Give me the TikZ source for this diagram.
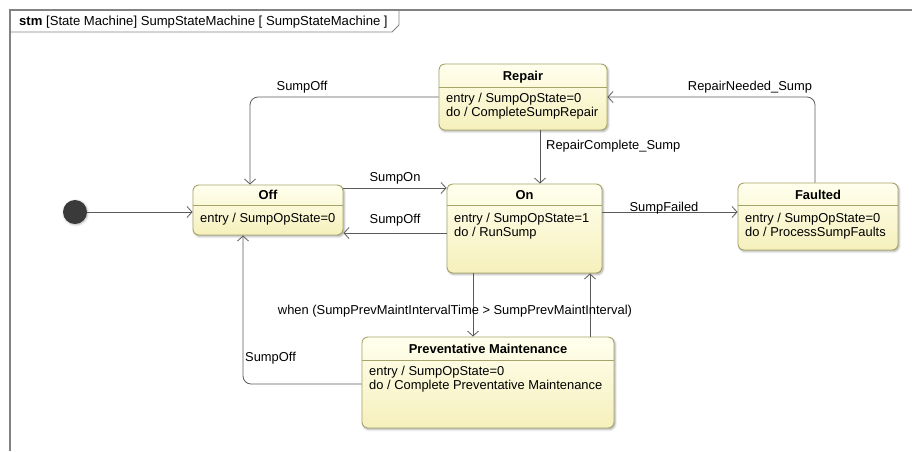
\documentclass[tikz,border=0pt]{standalone}
\usepackage{fontspec}
\setmainfont{Liberation Sans}
\usetikzlibrary{arrows.meta,shadows.blur}
\definecolor{stateborder}{RGB}{165,165,105}
\definecolor{statetop}{RGB}{255,255,238}
\definecolor{statebot}{RGB}{246,240,188}
\definecolor{wire}{RGB}{90,90,90}
\definecolor{framegray}{RGB}{130,130,130}
\definecolor{initfill}{RGB}{58,58,58}
\tikzset{
  statebox/.style={draw=stateborder, line width=0.9pt, rounded corners=6pt,
    top color=statetop, bottom color=statebot, inner sep=0pt,
    blur shadow={shadow xshift=1.2pt, shadow yshift=-1.5pt,
      shadow blur radius=2pt, shadow opacity=35}},
  sepline/.style={draw=stateborder, line width=0.8pt},
  stitle/.style={font=\fontsize{12.9}{15}\selectfont\bfseries, anchor=base, inner sep=0pt},
  sline/.style={anchor=base west, inner sep=0pt},
  trans/.style={draw=wire, line width=0.8pt, rounded corners=8pt,
    -{Straight Barb[length=5pt,width=11pt,line width=0.8pt]}},
  tlabel/.style={inner sep=0pt},
}
\begin{document}
\begin{tikzpicture}[x=1pt, y=-1pt, font=\fontsize{12.9}{15}\selectfont]
\useasboundingbox (0,0) rectangle (912,451);

% diagram frame and name tab
\draw[framegray, line width=1.3pt] (10,451) -- (10,10) -- (912,10);
\draw[framegray, line width=0.9pt] (10,32) -- (392,32) -- (399,25) -- (399,10);
\node[anchor=base west, inner sep=0pt, font=\fontsize{13.1}{15}\selectfont] (tab) at (19,25)
  {\textbf{stm} [State Machine] SumpStateMachine [ SumpStateMachine ]};

% initial pseudostate
\node[circle, fill=initfill, minimum size=24pt, inner sep=0pt,
  blur shadow={shadow xshift=0.8pt, shadow yshift=-0.8pt, shadow opacity=30}]
  (init) at (75,212) {};

% Off
\node[statebox, minimum width=150pt, minimum height=50pt] (off) at (268,210) {};
\draw[sepline] (193,205) -- (343,205);
\node[stitle] (off-t) at (268,199.5) {Off};
\node[sline] (off-e) at (200,222.5) {entry / SumpOpState=0};

% On
\node[statebox, minimum width=155pt, minimum height=89pt] (on) at (524.5,228.5) {};
\draw[sepline] (447,205) -- (602,205);
\node[stitle] (on-t) at (524.5,199.5) {On};
\node[sline] (on-e) at (454,222.5) {entry / SumpOpState=1};
\node[sline] (on-d) at (454,236.5) {do / RunSump};

% Repair
\node[statebox, minimum width=168pt, minimum height=66pt] (repair) at (523,97) {};
\draw[sepline] (439,87) -- (607,87);
\node[stitle] (repair-t) at (523,80.5) {Repair};
\node[sline] (repair-e) at (446,102.5) {entry / SumpOpState=0};
\node[sline] (repair-d) at (446,116.5) {do / CompleteSumpRepair};

% Faulted
\node[statebox, minimum width=160pt, minimum height=67pt] (faulted) at (818,216.5) {};
\draw[sepline] (738,205) -- (898,205);
\node[stitle] (faulted-t) at (818,199.5) {Faulted};
\node[sline] (faulted-e) at (745,222.5) {entry / SumpOpState=0};
\node[sline] (faulted-d) at (745,236.5) {do / ProcessSumpFaults};

% Preventative Maintenance
\node[statebox, minimum width=252pt, minimum height=91pt] (pm) at (488,382.5) {};
\draw[sepline] (362,360) -- (614,360);
\node[stitle] (pm-t) at (488,353.5) {Preventative Maintenance};
\node[sline] (pm-e) at (369,375.5) {entry / SumpOpState=0};
\node[sline] (pm-d) at (369,389.5) {do / Complete Preventative Maintenance};

% transitions
\draw[trans] (init) -- (init -| off.west);
\draw[trans] (repair.west) -| ([xshift=-18pt]off.north);
\draw[trans] ([yshift=22pt]off.east) -- ([yshift=22pt]off.east -| on.west);
\draw[trans] ([yshift=-4.5pt]on.west) -- ([yshift=-4.5pt]on.west -| off.east);
\draw[trans] ([xshift=17pt]repair.south) -- ([xshift=17pt]repair.south |- on.north);
\draw[trans] ([yshift=16.5pt]on.east) -- ([yshift=16.5pt]on.east -| faulted.west);
\draw[trans] ([xshift=-3pt]faulted.north) |- (repair.east);
\draw[trans] ([xshift=-51.5pt]on.south) -- ([xshift=-51.5pt]on.south |- pm.north);
\draw[trans] ([xshift=65.5pt]on.south |- pm.north) -- ([xshift=65.5pt]on.south);
\draw[trans] ([yshift=-1.5pt]pm.west) -| ([xshift=-25pt]off.south);

% transition labels
\node[tlabel] (l-off1) at (302,87) {SumpOff};
\node[tlabel] (l-on) at (395,178) {SumpOn};
\node[tlabel] (l-off2) at (395,220) {SumpOff};
\node[tlabel, anchor=west] (l-rc) at (546,146) {RepairComplete\_Sump};
\node[tlabel] (l-fail) at (664,208) {SumpFailed};
\node[tlabel] (l-rn) at (750,87) {RepairNeeded\_Sump};
\node[tlabel] (l-when) at (455,311) {when (SumpPrevMaintIntervalTime > SumpPrevMaintInterval)};
\node[tlabel, anchor=west] (l-off3) at (245,358) {SumpOff};
\end{tikzpicture}
\end{document}
